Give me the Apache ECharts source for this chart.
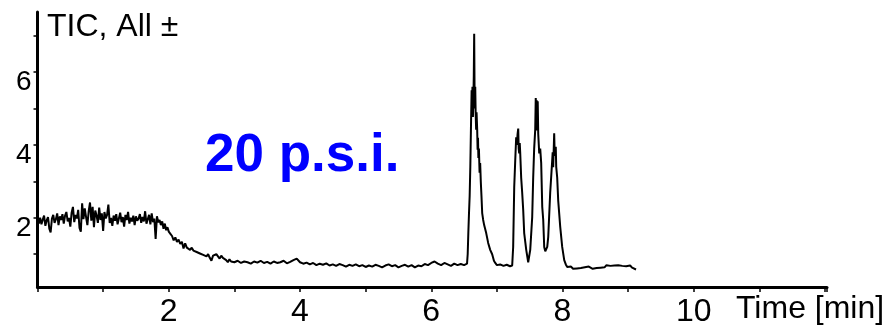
<!DOCTYPE html>
<html>
<head>
<meta charset="utf-8">
<script src="https://cdn.jsdelivr.net/npm/echarts@6/dist/echarts.min.js"></script>
<style>
html,body{margin:0;padding:0;background:#fff;}
#chart{width:888px;height:329px;}
</style>
</head>
<body>
<div id="chart"></div>
<script>
// ---- data (time in min, TIC intensity) ----
const xTickLabels = [2, 4, 6, 8, 10];
const yTickLabels = [2, 4, 6];
const yTicks = [1, 2, 3, 4, 5, 6, 7];
const titleText = 'TIC, All \u00B1';
const annotationText = '20 p.s.i.';
const xAxisTitle = 'Time [min]';

const ticEarly = [
[0.00,1.90],[0.02,1.84],[0.04,2.00],[0.06,1.82],[0.08,1.95],[0.10,2.06],[0.12,1.78],[0.14,1.93],[0.16,2.02],[0.18,1.70],
[0.20,1.60],[0.22,1.98],[0.24,2.08],[0.26,1.86],[0.28,1.96],[0.30,2.12],[0.32,1.80],[0.34,2.04],[0.36,1.94],[0.38,2.10],
[0.40,1.84],[0.42,2.06],[0.44,2.16],[0.46,1.90],[0.48,2.00],[0.50,1.76],[0.52,2.14],[0.54,2.30],[0.56,1.88],[0.58,2.08],
[0.60,1.98],[0.62,2.22],[0.64,1.72],[0.66,1.62],[0.68,2.40],[0.70,1.96],[0.72,2.26],[0.74,2.02],[0.76,1.80],[0.78,2.18],
[0.80,2.42],[0.82,1.92],[0.84,2.30],[0.86,1.74],[0.88,2.20],[0.90,2.06],[0.92,1.86],[0.94,2.28],[0.96,1.94],[0.98,2.12],
[1.00,1.64],[1.02,2.16],[1.04,1.98],[1.06,2.08],[1.08,2.36],[1.10,1.86],[1.12,2.00],[1.14,1.78],[1.16,2.06],[1.18,1.92],
[1.20,2.10],[1.22,1.82],[1.24,1.98],[1.26,2.14],[1.28,1.88],[1.30,2.02],[1.32,1.76],[1.34,2.08],[1.36,1.94],[1.38,2.16],
[1.40,1.84],[1.42,2.00],[1.44,1.90],[1.46,2.06],[1.48,1.80],[1.50,2.04],[1.52,1.92],[1.54,1.98],[1.56,2.10],[1.58,1.86],
[1.60,2.02],[1.62,1.90],[1.64,2.18],[1.66,1.84],[1.68,1.96],[1.70,2.08],[1.72,1.82],[1.74,2.12],[1.76,1.88],[1.78,1.98],
[1.80,1.42],[1.82,2.04],[1.84,1.88],[1.86,1.94],[1.88,1.80],[1.90,1.90],[1.92,1.70],[1.94,1.84],[1.96,1.66],[1.98,1.74]
];

const ticDecline = [
[2.000,1.62],[2.025,1.56],[2.050,1.50],[2.075,1.38],[2.100,1.46],[2.125,1.34],[2.150,1.40],[2.175,1.28],[2.200,1.34],[2.225,1.16],
[2.250,1.30],[2.275,1.18],[2.300,1.22],[2.325,1.12],[2.350,1.18],[2.375,1.10],[2.400,1.14],[2.425,1.06],[2.450,1.10],[2.475,1.02],
[2.500,1.06],[2.525,0.98],[2.550,1.02],[2.575,0.94],[2.600,1.00],[2.625,0.90],[2.650,0.82],[2.675,0.96],[2.700,0.92],[2.725,1.00],
[2.750,0.94],[2.775,0.88],[2.800,0.96],[2.825,0.90],[2.850,0.92],[2.875,0.84],[2.900,0.78],[2.925,0.86],[2.950,0.80],[2.975,0.84]
];

const ticBaseline = [
[3.00,0.78],[3.05,0.82],[3.10,0.76],[3.15,0.80],[3.20,0.78],[3.25,0.74],[3.30,0.80],[3.35,0.77],[3.40,0.82],[3.45,0.76],
[3.50,0.79],[3.55,0.74],[3.60,0.80],[3.65,0.76],[3.70,0.78],[3.75,0.82],[3.80,0.75],[3.85,0.79],[3.90,0.84],[3.95,0.88],
[4.00,0.78],[4.05,0.74],[4.10,0.77],[4.15,0.72],[4.20,0.76],[4.25,0.70],[4.30,0.74],[4.35,0.71],[4.40,0.75],[4.45,0.69],
[4.50,0.72],[4.55,0.68],[4.60,0.73],[4.65,0.70],[4.70,0.66],[4.75,0.71],[4.80,0.68],[4.85,0.72],[4.90,0.67],[4.95,0.70],
[5.00,0.65],[5.05,0.69],[5.10,0.66],[5.15,0.71],[5.20,0.68],[5.25,0.64],[5.30,0.69],[5.35,0.72],[5.40,0.67],[5.45,0.70],
[5.50,0.64],[5.55,0.68],[5.60,0.71],[5.65,0.66],[5.70,0.70],[5.75,0.64],[5.80,0.69],[5.85,0.67],[5.90,0.73],[5.95,0.70],
[6.00,0.76],[6.05,0.80],[6.10,0.74],[6.15,0.70],[6.20,0.76],[6.25,0.72],[6.30,0.68],[6.35,0.74],[6.40,0.70],[6.45,0.73]
];

const ticPeaks = [
[6.500,0.70],[6.545,0.74],[6.555,1.00],[6.565,1.60],[6.575,2.13],[6.585,2.60],[6.595,3.40],[6.605,4.50],[6.615,5.50],[6.620,5.10],
[6.628,5.60],[6.635,4.77],[6.642,5.30],[6.648,5.90],[6.654,7.05],[6.660,5.40],[6.665,5.00],[6.670,5.60],[6.676,4.90],[6.684,4.42],
[6.690,4.90],[6.700,4.40],[6.706,3.87],[6.712,4.20],[6.718,3.64],[6.726,3.90],[6.736,3.24],[6.745,3.50],[6.755,2.98],[6.765,2.60],
[6.776,2.13],[6.791,1.94],[6.806,1.80],[6.837,1.58],[6.867,1.31],[6.898,1.12],[6.928,1.00],[6.955,0.82],[6.975,0.76],[7.000,0.70],
[7.050,0.72],[7.100,0.68],[7.150,0.71],[7.200,0.67],[7.233,0.69],
[7.248,1.20],[7.264,2.84],[7.280,3.60],[7.294,4.21],[7.305,4.00],[7.315,4.30],[7.325,4.45],[7.332,3.90],[7.340,3.77],[7.348,4.05],
[7.355,3.80],[7.370,3.10],[7.385,2.70],[7.401,2.21],[7.416,1.58],[7.447,1.12],[7.477,0.78],
[7.508,1.12],[7.538,2.02],[7.553,3.10],[7.568,3.90],[7.584,4.42],[7.592,5.29],[7.599,4.90],[7.607,5.23],[7.614,4.40],[7.622,5.20],
[7.630,4.30],[7.645,3.77],[7.660,3.90],[7.675,3.50],[7.691,2.30],[7.706,1.94],[7.721,1.20],[7.737,1.08],[7.752,1.06],[7.767,1.20],
[7.782,1.47],[7.812,2.68],[7.843,3.58],[7.850,3.80],[7.858,3.39],[7.873,4.32],[7.881,3.70],[7.889,3.67],[7.897,3.95],[7.904,3.40],
[7.919,3.10],[7.934,2.48],[7.965,1.75],[7.995,1.20],[8.026,0.84],[8.050,0.72],[8.072,0.65]
];

const ticTail = [
[8.10,0.62],[8.13,0.66],[8.16,0.60],[8.19,0.64],[8.22,0.61],[8.25,0.65],[8.28,0.62],[8.31,0.60],[8.34,0.64],[8.37,0.62],
[8.40,0.66],[8.43,0.63],[8.46,0.60],[8.49,0.65],[8.52,0.62],[8.55,0.67],[8.58,0.63],[8.61,0.68],[8.64,0.64],[8.67,0.70],
[8.70,0.66],[8.73,0.68],[8.76,0.64],[8.79,0.69],[8.82,0.65],[8.85,0.70],[8.88,0.66],[8.91,0.68],[8.94,0.64],[8.97,0.67],
[9.00,0.65],[9.03,0.69],[9.06,0.63],[9.09,0.66],[9.12,0.58]
];

const ticTrace = [].concat(ticEarly, ticDecline, ticBaseline, ticPeaks, ticTail);

const FONT = '"Liberation Sans", Arial, sans-serif';
const chart = echarts.init(document.getElementById('chart'), null, {renderer: 'canvas'});
chart.setOption({
  animation: false,
  backgroundColor: '#ffffff',
  grid: {left: 37.5, right: 61, top: 12, bottom: 42, containLabel: false},
  xAxis: {
    type: 'value', min: 0, max: 12.03, interval: 1,
    axisLine: {show: true, onZero: false, lineStyle: {color: '#000', width: 3}},
    axisTick: {show: true, inside: false, length: 5, lineStyle: {color: '#000', width: 1.5}},
    axisLabel: {
      show: true, customValues: xTickLabels, margin: 9,
      color: '#000', fontSize: 32, fontFamily: FONT
    },
    splitLine: {show: false}
  },
  yAxis: {
    type: 'value', min: 0.1, max: 7.65,
    axisLine: {show: true, onZero: false, lineStyle: {color: '#000', width: 3}},
    axisTick: {show: true, inside: false, length: 4, customValues: yTicks, lineStyle: {color: '#000', width: 1.5}},
    axisLabel: {
      show: true, customValues: yTickLabels, margin: 6, verticalAlign: 'top', lineHeight: 21,
      color: '#000', fontSize: 28, fontFamily: FONT
    },
    splitLine: {show: false}
  },
  series: [{
    type: 'line',
    data: ticTrace,
    showSymbol: false,
    symbol: 'none',
    lineStyle: {color: '#000', width: 2},
    z: 3
  }],
  graphic: [
    {type: 'text', style: {text: titleText, x: 47, y: 27, font: '32px ' + FONT, fill: '#000', verticalAlign: 'middle', align: 'left'}},
    {type: 'text', style: {text: annotationText, x: 205, y: 156, font: 'bold 53px ' + FONT, fill: '#0000FF', verticalAlign: 'middle', align: 'left'}},
    {type: 'text', style: {text: xAxisTitle, x: 736, y: 309, font: '32px ' + FONT, fill: '#000', verticalAlign: 'middle', align: 'left'}}
  ]
});
</script>
</body>
</html>
